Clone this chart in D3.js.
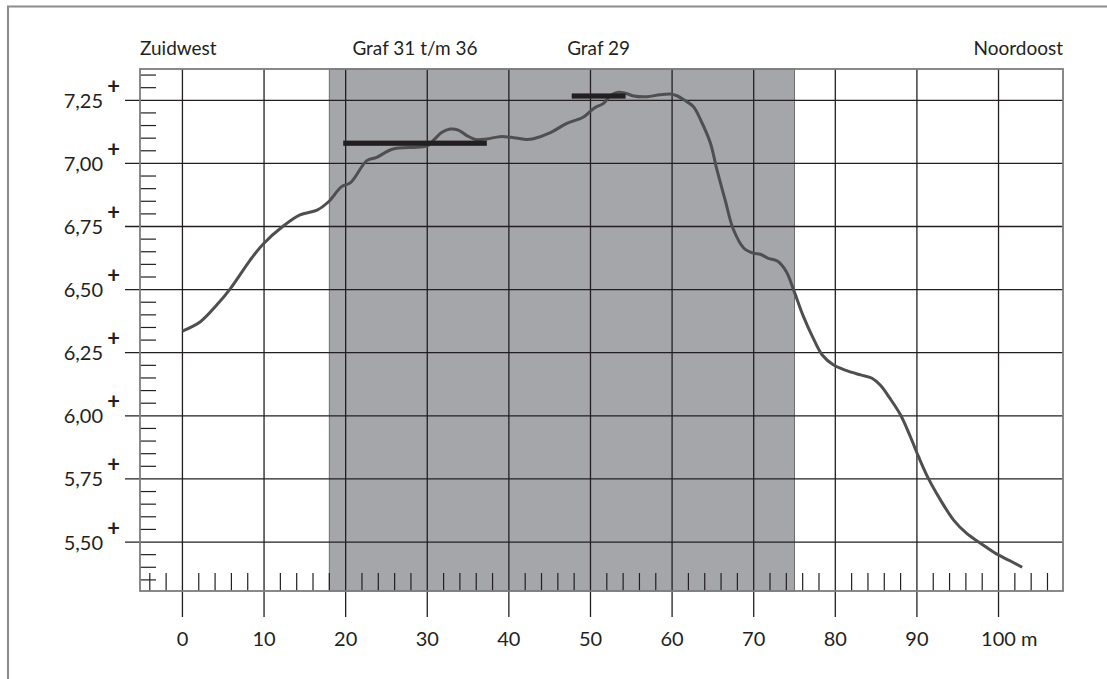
<!DOCTYPE html>
<html><head><meta charset="utf-8">
<script src="https://cdn.jsdelivr.net/npm/d3@7/dist/d3.min.js"></script>
<style>
html,body{margin:0;padding:0;background:#fff;}
svg{display:block;}
text{font-family:Lato,"Open Sans",sans-serif;fill:#231f20;}
</style></head>
<body>
<svg id="chart" width="1107" height="679"></svg>
<script>
// ---- data ----
const profileX = [0, 2.2, 4.2, 5.9, 8.3, 9.9, 12.4, 14.4, 16.5, 17.9, 19.5, 20.6, 22.6, 23.8, 25.7, 28.7, 30.0, 30.8, 31.8, 32.8, 33.8, 34.9, 35.9, 37.3, 38.9, 40.6, 42.2, 43.0, 45.1, 47.1, 49.1, 50.4, 51.6, 52.4, 53.4, 54.3, 55.3, 56.9, 58.5, 59.8, 60.6, 61.5, 62.6, 63.6, 64.7, 65.5, 66.5, 67.5, 68.8, 70.0, 70.8, 71.8, 72.9, 74.0, 74.9, 76.1, 77.3, 78.4, 79.8, 81.4, 83.1, 84.5, 85.5, 86.7, 88.0, 89.2, 90.2, 91.4, 92.9, 94.5, 96.1, 97.8, 99.8, 101.4, 102.9];
const profileY = [6.336, 6.373, 6.439, 6.505, 6.617, 6.681, 6.753, 6.796, 6.815, 6.848, 6.908, 6.924, 7.011, 7.024, 7.056, 7.064, 7.069, 7.093, 7.123, 7.136, 7.132, 7.109, 7.095, 7.097, 7.106, 7.102, 7.095, 7.098, 7.122, 7.159, 7.183, 7.218, 7.238, 7.267, 7.282, 7.278, 7.267, 7.264, 7.272, 7.275, 7.268, 7.251, 7.225, 7.165, 7.080, 6.974, 6.855, 6.739, 6.664, 6.644, 6.640, 6.624, 6.613, 6.571, 6.498, 6.393, 6.307, 6.241, 6.201, 6.179, 6.162, 6.149, 6.122, 6.069, 6.003, 5.917, 5.838, 5.752, 5.666, 5.587, 5.534, 5.495, 5.452, 5.426, 5.400];

const graveLabels = ["Graf 31 t/m 36", "Graf 29"];
const graveStart  = [19.7, 47.7];
const graveEnd    = [37.3, 54.3];
const graveLevel  = [7.08, 7.267];

const zoneStart = 18, zoneEnd = 75;          // shaded excavation zone (m)
const xTickValues = [0, 10, 20, 30, 40, 50, 60, 70, 80, 90, 100];
const xTickLabels = ["0", "10", "20", "30", "40", "50", "60", "70", "80", "90", "100"];
const xUnit = "m";
const yTickValues = [5.50, 5.75, 6.00, 6.25, 6.50, 6.75, 7.00, 7.25];
const yTickLabels = ["5,50", "5,75", "6,00", "6,25", "6,50", "6,75", "7,00", "7,25"];
const cornerLeft = "Zuidwest", cornerRight = "Noordoost";
const xDomain = [-5.2, 107.9];
const yDomain = [5.306, 7.374];

// ---- drawing ----
const svg = d3.select("#chart");
const L = 140, R = 1063, T = 69, B = 591;
const x = d3.scaleLinear().domain(xDomain).range([L, R]);
const y = d3.scaleLinear().domain(yDomain).range([B, T]);
const ink = "#231f20";

// outer border
svg.append("path").attr("d", "M8,679V6.5H1107")
  .attr("fill", "none").attr("stroke", "#8c8c8c").attr("stroke-width", 2);

// shaded zone
svg.append("rect")
  .attr("x", x(zoneStart)).attr("y", T)
  .attr("width", x(zoneEnd) - x(zoneStart)).attr("height", B - T)
  .attr("fill", "#a5a6aa").attr("stroke", "#6e6e70").attr("stroke-width", 1);

// horizontal gridlines
svg.append("g").selectAll("line").data(yTickValues).join("line")
  .attr("x1", 125).attr("x2", R)
  .attr("y1", d => y(d)).attr("y2", d => y(d))
  .attr("stroke", ink).attr("stroke-width", 1.3);

// vertical gridlines
svg.append("g").selectAll("line").data(xTickValues).join("line")
  .attr("x1", d => x(d)).attr("x2", d => x(d))
  .attr("y1", T).attr("y2", 617)
  .attr("stroke", ink).attr("stroke-width", 1.3);

// minor y ticks every 0.05
const yMinor = d3.range(5.35, 7.3751, 0.05).map(v => Math.round(v * 100) / 100)
  .filter(v => Math.abs(v * 4 - Math.round(v * 4)) > 1e-6);
svg.append("g").selectAll("line").data(yMinor).join("line")
  .attr("x1", L).attr("x2", 156)
  .attr("y1", d => y(d)).attr("y2", d => y(d))
  .attr("stroke", ink).attr("stroke-width", 1.2);

// minor x ticks every 2 m
const xMinor = d3.range(-4, 107, 2).filter(v => v % 10 !== 0);
svg.append("g").selectAll("line").data(xMinor).join("line")
  .attr("x1", d => x(d)).attr("x2", d => x(d))
  .attr("y1", B).attr("y2", 573)
  .attr("stroke", ink).attr("stroke-width", 1.2);

// profile line
const pts = profileX.map((v, i) => [v, profileY[i]]);
svg.append("path").datum(pts)
  .attr("d", d3.line().x(d => x(d[0])).y(d => y(d[1])).curve(d3.curveCatmullRom.alpha(0.5)))
  .attr("fill", "none").attr("stroke", "#4f4f52").attr("stroke-width", 3)
  .attr("stroke-linejoin", "round");

// grave bars
svg.append("g").selectAll("rect").data(graveLabels).join("rect")
  .attr("x", (d, i) => x(graveStart[i]))
  .attr("width", (d, i) => x(graveEnd[i]) - x(graveStart[i]))
  .attr("y", (d, i) => y(graveLevel[i]) - 2.6).attr("height", 5.2)
  .attr("fill", ink);

// plot frame
svg.append("rect").attr("x", L).attr("y", T).attr("width", R - L).attr("height", B - T)
  .attr("fill", "none").attr("stroke", "#7d7d7f").attr("stroke-width", 1.8);

// top labels
svg.append("text").attr("x", L).attr("y", 55).attr("font-size", 19).text(cornerLeft);
svg.append("text").attr("x", R).attr("y", 55).attr("font-size", 19)
  .attr("text-anchor", "end").text(cornerRight);
svg.append("g").selectAll("text").data(graveLabels).join("text")
  .attr("x", (d, i) => x((graveStart[i] + graveEnd[i]) / 2))
  .attr("y", 55).attr("font-size", 19).attr("text-anchor", "middle").text(d => d);

// y labels with superscript +
const yl = svg.append("g").selectAll("g").data(yTickValues).join("g");
yl.append("text").attr("x", 103).attr("y", d => y(d) + 7.5)
  .attr("font-size", 20).attr("text-anchor", "end")
  .text((d, i) => yTickLabels[i]);
yl.append("text").attr("x", 113.7).attr("y", d => y(d) - 6.5)
  .attr("font-size", 22).attr("font-weight", 700).attr("text-anchor", "middle").text("+");

// x labels
const xl = svg.append("g").selectAll("text").data(xTickValues).join("text")
  .attr("x", d => x(d)).attr("y", 646)
  .attr("font-size", 20).attr("text-anchor", "middle")
  .text((d, i) => xTickLabels[i]);
const lastNode = xl.nodes()[xl.nodes().length - 1];
const lw = lastNode.getComputedTextLength();
svg.append("text").attr("x", x(xTickValues[xTickValues.length - 1]) + lw / 2 + 5)
  .attr("y", 646).attr("font-size", 20).text(xUnit);
</script>
</body></html>
